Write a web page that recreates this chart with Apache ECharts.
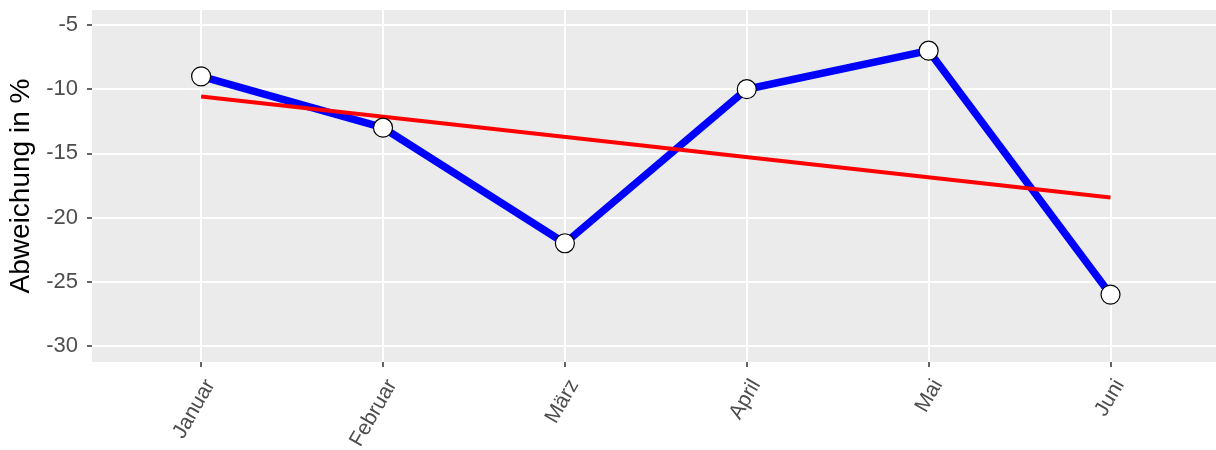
<!DOCTYPE html>
<html>
<head>
<meta charset="utf-8">
<script src="https://cdn.jsdelivr.net/npm/echarts@6/dist/echarts.min.js"></script>
<style>
html,body{margin:0;padding:0;background:#fff;}
#chart{width:1216px;height:450px;}
</style>
</head>
<body>
<div id="chart"></div>
<script>
var categories = ['Januar', 'Februar', 'März', 'April', 'Mai', 'Juni'];
var values = [-9, -13, -22, -10, -7, -26];
var trendStart = -10.57;
var trendEnd = -18.43;
var yTicks = [-30, -25, -20, -15, -10, -5];

var chart = echarts.init(document.getElementById('chart'), null, {renderer: 'canvas'});
var xs = categories.map(function (c, i) { return i + 1; });
var mainData = values.map(function (v, i) { return [xs[i], v]; });
var trendData = [[xs[0], trendStart], [xs[xs.length - 1], trendEnd]];
var font = 'Liberation Sans, Arial, sans-serif';

chart.setOption({
  animation: false,
  backgroundColor: '#ffffff',
  grid: {left: 92, right: 0, top: 10, bottom: 88, show: true, backgroundColor: '#EBEBEB', borderWidth: 0,
         containLabel: false, outerBoundsMode: 'none'},
  xAxis: {
    type: 'value', min: 0.4, max: 6.58,
    axisLine: {show: false},
    axisTick: {show: true, length: 5, lineStyle: {color: '#333333', width: 1.5}, customValues: xs},
    axisLabel: {
      customValues: xs, rotate: 60, margin: 14, fontSize: 21, color: '#4D4D4D', fontFamily: font,
      verticalAlign: 'top', hideOverlap: false,
      formatter: function (v) { return categories[Math.round(v) - 1] || ''; }
    },
    splitLine: {show: true, lineStyle: {color: '#ffffff', width: 2}}
  },
  yAxis: {
    type: 'value', min: -31.25, max: -3.83,
    name: 'Abweichung in %', nameLocation: 'middle', nameGap: 56, nameRotate: 90,
    nameTextStyle: {fontSize: 28, color: '#000000', fontFamily: font},
    axisLine: {show: false},
    axisTick: {show: true, length: 5, lineStyle: {color: '#333333', width: 1.5}, customValues: yTicks},
    axisLabel: {customValues: yTicks, margin: 14, fontSize: 22, color: '#4D4D4D', fontFamily: font},
    splitLine: {show: true, lineStyle: {color: '#ffffff', width: 2}}
  },
  series: [
    {type: 'line', data: mainData, showSymbol: false, symbol: 'none',
     lineStyle: {color: '#0000FF', width: 7.5}, z: 2},
    {type: 'line', data: trendData, showSymbol: false, symbol: 'none',
     lineStyle: {color: '#FF0000', width: 4}, z: 3},
    {type: 'scatter', data: mainData, symbol: 'circle', symbolSize: 19,
     itemStyle: {color: '#ffffff', borderColor: '#000000', borderWidth: 1.2, opacity: 1}, z: 4}
  ]
});
</script>
</body>
</html>
